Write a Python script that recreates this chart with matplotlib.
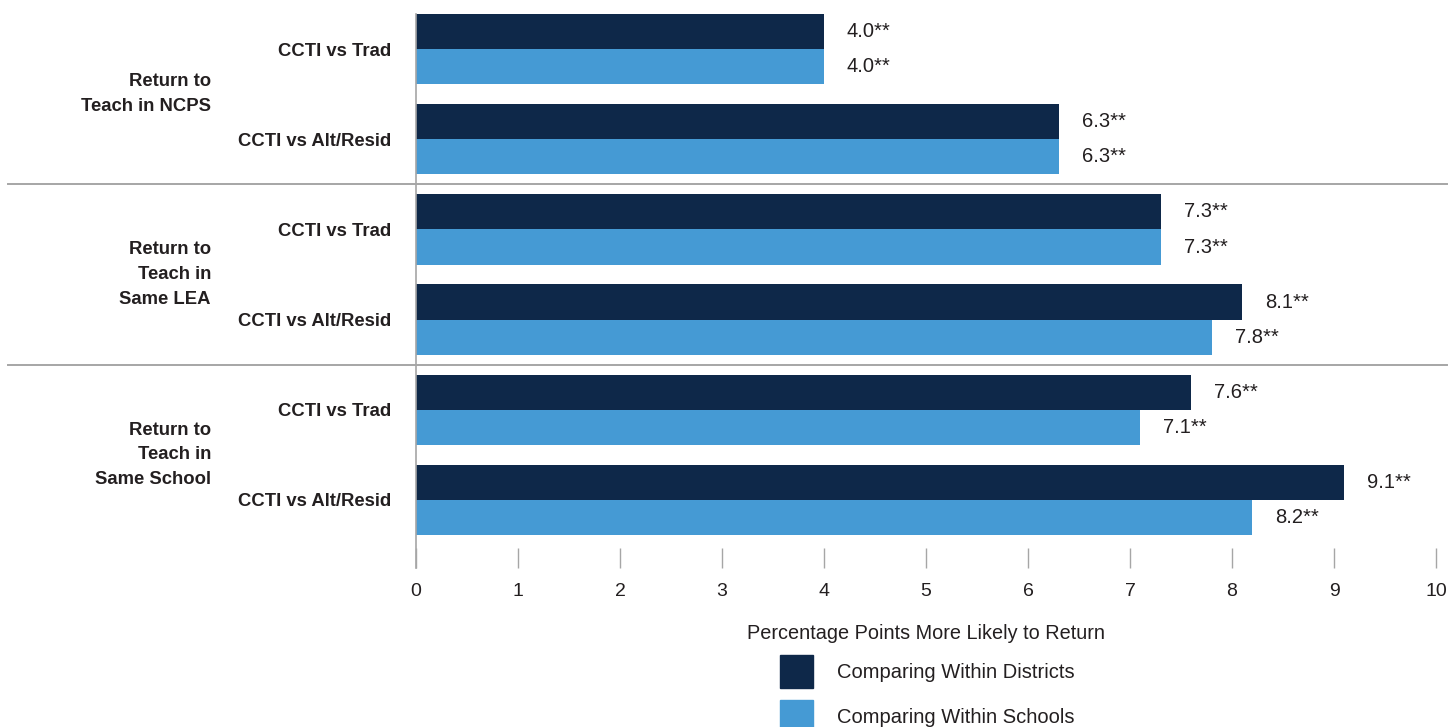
import matplotlib
matplotlib.use("Agg")
import matplotlib.pyplot as plt
import matplotlib.transforms as mtransforms
from matplotlib.patches import Patch
import numpy as np

plt.rcParams["font.family"] = ["Liberation Sans", "DejaVu Sans"]

# data
groups = ["Return to\nTeach in NCPS", "Return to\nTeach in\nSame LEA", "Return to\nTeach in\nSame School"]
comparisons = ["CCTI vs Trad", "CCTI vs Alt/Resid"] * 3
within_districts = [4.0, 6.3, 7.3, 8.1, 7.6, 9.1]
within_schools = [4.0, 6.3, 7.3, 7.8, 7.1, 8.2]
stars = "**"
series_names = ["Comparing Within Districts", "Comparing Within Schools"]

dark = "#0e2849"
light = "#459ad4"
txt = "#231f20"
grey = "#a6a6a6"

fig = plt.figure(figsize=(14.5, 7.27), dpi=100)
ax = fig.add_axes([0.2869, 0.2187, 0.70345, 0.7620])

y = np.arange(len(comparisons))
h = 0.39
ax.barh(y - h / 2, within_districts, height=h, color=dark)
ax.barh(y + h / 2, within_schools, height=h, color=light)

for yi, v in zip(y, within_districts):
    ax.annotate(f"{v:.1f}{stars}", (v, yi - h / 2), xytext=(16.5, 0), textcoords="offset points",
                va="center", ha="left", fontsize=14.5, color=txt)
for yi, v in zip(y, within_schools):
    ax.annotate(f"{v:.1f}{stars}", (v, yi + h / 2), xytext=(16.5, 0), textcoords="offset points",
                va="center", ha="left", fontsize=14.5, color=txt)

ax.set_xlim(0, 10)
ax.set_ylim(5.754, -0.388)
ax.set_xticks(range(0, 11))
ax.tick_params(axis="x", direction="in", length=14.4, width=1, color=grey,
               labelsize=14, labelcolor=txt, pad=11)
ax.set_yticks(y)
ax.set_yticklabels(comparisons, fontsize=13.3, fontweight="bold", color=txt)
ax.tick_params(axis="y", length=0, pad=18)

for s in ["top", "right", "bottom"]:
    ax.spines[s].set_visible(False)
ax.spines["left"].set_color(grey)
ax.spines["left"].set_linewidth(1.2)

# group separators and labels
for sep in [1.5, 3.5]:
    ax.axhline(sep, xmin=-0.4, xmax=1.0108, color=grey, lw=1.4, clip_on=False)

trans = mtransforms.blended_transform_factory(ax.transAxes, ax.transData)
for gi, g in enumerate(groups):
    ax.text(-0.201, gi * 2 + 0.5, g, transform=trans, ha="right", va="center",
            fontsize=13.3, fontweight="bold", color=txt, linespacing=1.6)

ax.set_xlabel("Percentage Points More Likely to Return", fontsize=14.3, color=txt, labelpad=17)

handles = [Patch(color=dark), Patch(color=light)]
fig.legend(handles, series_names, loc="upper left", bbox_to_anchor=(780 / 1450, 1 - 655 / 727),
           frameon=False, fontsize=14.5, handlelength=1.64, handleheight=2.144,
           handletextpad=1.2, labelspacing=0.6, borderpad=0, borderaxespad=0,
           labelcolor=txt)

plt.savefig("out.png", dpi=100)
